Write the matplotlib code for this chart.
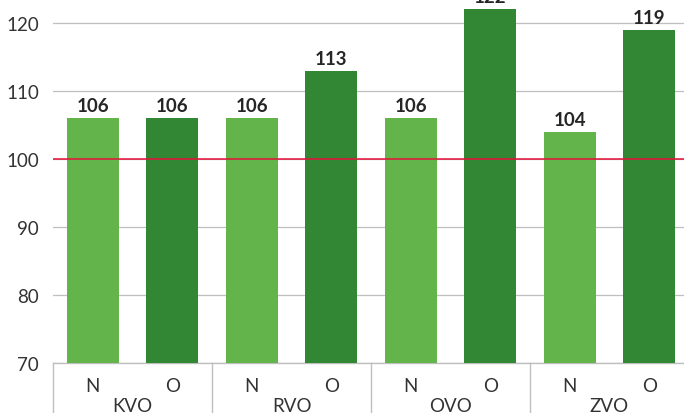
import matplotlib
matplotlib.use('Agg')
import matplotlib.pyplot as plt
import numpy as np

plt.rcParams['font.family'] = ['Lato', 'DejaVu Sans']

# data
groups = ['KVO', 'RVO', 'OVO', 'ZVO']
subcats = ['N', 'O']
values_n = [106, 106, 106, 104]
values_o = [106, 113, 122, 119]
ref_level = 100

light = '#62B44B'
dark = '#328735'
red = '#E8103A'
txt = '#333333'

fig = plt.figure(figsize=(6.84, 4.14), dpi=100)
# plot area: 70 at y=364px, 6.8 px per unit, 79.5 px per bar slot
ax = fig.add_axes([53 / 684, 50 / 414, 636 / 684, 408 / 414])

vals = []
cols = []
for n, o in zip(values_n, values_o):
    vals += [n, o]
    cols += [light, dark]
x = np.arange(len(vals))

ax.bar(x, np.array(vals) - 70, bottom=70, width=0.654, color=cols, zorder=3)

for xi, v in zip(x, vals):
    ax.annotate(str(v), (xi, v), xytext=(0, 5), textcoords='offset points',
                ha='center', va='baseline', fontsize=13.5, fontweight='bold',
                color='#262626', zorder=4)

ax.axhline(ref_level, color=red, lw=1.1, zorder=4)

ax.set_xlim(-0.5, len(vals) - 0.5)
ax.set_ylim(70, 130)
ax.set_yticks(np.arange(70, 121, 10))
ax.yaxis.grid(True, color='#BFBFBF', lw=0.9, zorder=0)
ax.set_axisbelow(True)

for s in ['top', 'right', 'left']:
    ax.spines[s].set_visible(False)
ax.spines['bottom'].set_color('#BFBFBF')
ax.spines['bottom'].set_linewidth(1.0)

ax.tick_params(axis='y', length=0, pad=10, labelsize=13.5, labelcolor=txt)
ax.set_xticks(x)
ax.set_xticklabels(subcats * len(groups))
ax.tick_params(axis='x', length=0, pad=10, labelsize=13.5, labelcolor=txt)

tr = ax.get_xaxis_transform()
for b in np.arange(-0.5, len(vals), 2):
    ax.plot([b, b], [0, -0.2], color='#BFBFBF', lw=1.0, transform=tr, clip_on=False)
for i, g in enumerate(groups):
    ax.text(2 * i + 0.5, -48 / 408, g, transform=tr, ha='center', va='baseline',
            fontsize=13.5, color=txt)

fig.savefig('out.png', dpi=100)
